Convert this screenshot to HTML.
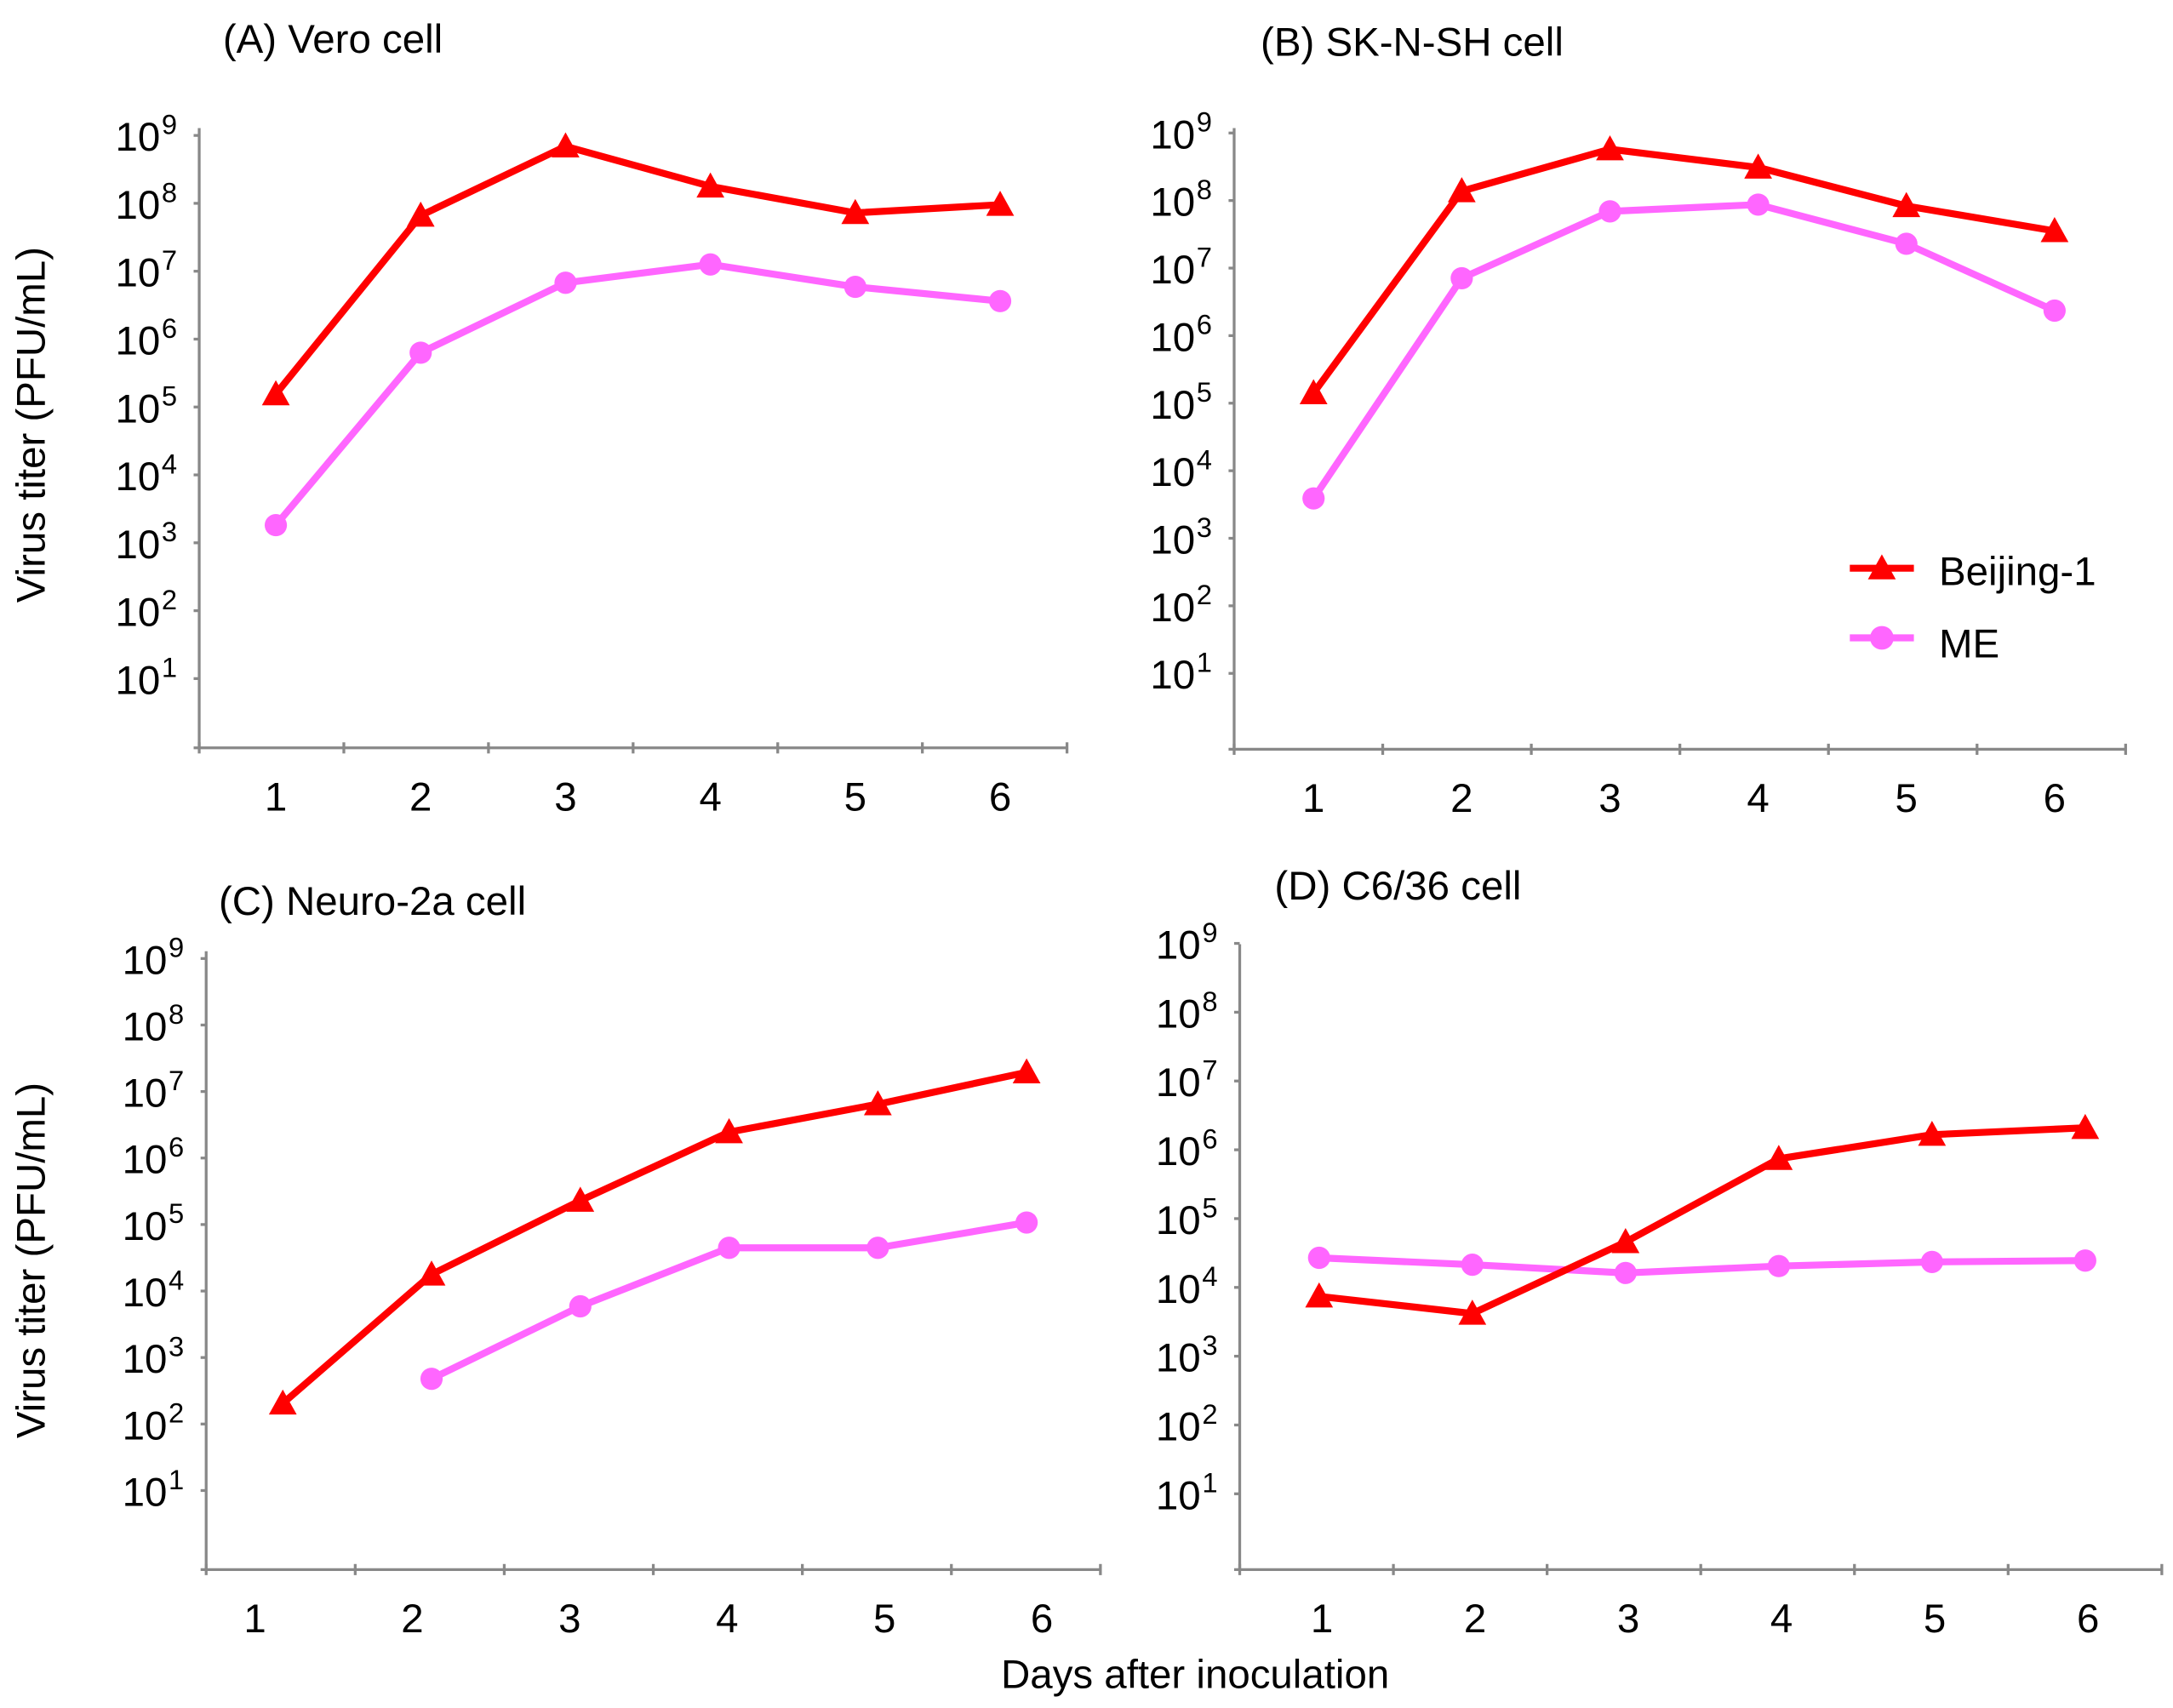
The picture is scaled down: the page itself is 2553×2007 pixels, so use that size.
<!DOCTYPE html>
<html><head><meta charset="utf-8"><style>
html,body{margin:0;padding:0;background:#fff;}
svg{display:block;font-family:"Liberation Sans","DejaVu Sans",sans-serif;}
</style></head><body>
<svg id="chart" width="2553" height="2007" viewBox="0 0 1560 1226.4" xmlns="http://www.w3.org/2000/svg">
<text x="32" y="305" font-size="29" text-anchor="middle" transform="rotate(-90 32 305)">Virus titer (PFU/mL)</text>
<text x="32" y="905" font-size="29" text-anchor="middle" transform="rotate(-90 32 905)">Virus titer (PFU/mL)</text>
<text x="858" y="1212" font-size="29" text-anchor="middle">Days after inoculation</text>
<g>
<line x1="1328" y1="408" x2="1374" y2="408" stroke="#f00" stroke-width="5"/>
<polygon points="1351,398 1361,416 1341,416" fill="#f00"/>
<text x="1392" y="420" font-size="29">Beijing-1</text>
<line x1="1328" y1="458" x2="1374" y2="458" stroke="#ff66ff" stroke-width="5"/>
<circle cx="1351" cy="458" r="8.5" fill="#ff66ff"/>
<text x="1392" y="472" font-size="29">ME</text>
</g>
</svg>
<script>
const days = [1,2,3,4,5,6];
const tickExps = [1,2,3,4,5,6,7,8,9];
const beijingA = [5.19,7.82,8.84,8.25,7.86,7.98];
const meA = [3.26,5.80,6.83,7.10,6.77,6.56];
const beijingB = [5.15,8.14,8.76,8.49,7.92,7.55];
const meB = [3.59,6.85,7.84,7.94,7.36,6.37];
const beijingC = [2.31,4.25,5.36,6.39,6.81,7.29];
const meC = [null,2.68,3.77,4.65,4.65,5.03];
const beijingD = [3.87,3.62,4.66,5.87,6.22,6.32];
const meD = [4.43,4.33,4.21,4.31,4.37,4.39];
const titles = ["(A) Vero cell","(B) SK-N-SH cell","(C) Neuro-2a cell","(D) C6/36 cell"];

const panels = [
 {id:"a",ax:143,top:92,bottom:537,right:766,y0:536,dec:48.75,lab0:198,labStep:104,pt0:198,ptStep:104,tx:160,ty:38,b:beijingA,m:meA,lx:140,ly:582},
 {id:"b",ax:886,top:92,bottom:538,right:1526,y0:532,dec:48.5,lab0:943,labStep:106.4,pt0:943,ptStep:106.4,tx:905,ty:40,b:beijingB,m:meB,lx:883,ly:583},
 {id:"c",ax:148,top:683,bottom:1127,right:790,y0:1118,dec:47.75,lab0:183,labStep:113,pt0:203,ptStep:106.8,tx:157,ty:657,b:beijingC,m:meC,lx:145,ly:1172},
 {id:"d",ax:890,top:678,bottom:1127,right:1552,y0:1122,dec:49.4,lab0:949,labStep:110,pt0:947,ptStep:110,tx:915,ty:646,b:beijingD,m:meD,lx:887,ly:1172}
];
const NS="http://www.w3.org/2000/svg";
const svg=document.getElementById("chart");
function mk(tag,attrs,parent){const e=document.createElementNS(NS,tag);for(const k in attrs)e.setAttribute(k,attrs[k]);(parent||svg).appendChild(e);return e;}
panels.forEach((p,pi)=>{
 const g=mk("g",{});
 
 
 const yS=v=>p.y0-v*p.dec;
 const xS=i=>p.pt0+i*p.ptStep;
 const xL=i=>p.lab0+i*p.labStep;
 const t=mk("text",{x:p.tx,y:p.ty,"font-size":29},g);t.textContent=titles[pi];
 
 
 const ya=mk("line",{x1:p.ax,y1:p.top,x2:p.ax,y2:p.bottom,stroke:"#888","stroke-width":2},g);
 
 
 const xa=mk("line",{x1:p.ax-4,y1:p.bottom,x2:p.right,y2:p.bottom,stroke:"#888","stroke-width":2},g);
 
 
 const n=days.length, w=(p.right-p.ax)/n;
 for(let i=0;i<=n;i++){const tk=mk("line",{x1:p.ax+i*w,y1:p.bottom-4,x2:p.ax+i*w,y2:p.bottom+4,stroke:"#888","stroke-width":2},g);
  
  }
 tickExps.forEach(e=>{
  const y=yS(e);
  const tk=mk("line",{x1:p.ax-4,y1:y,x2:p.ax,y2:y,stroke:"#888","stroke-width":2},g);
  
  
  const tx=mk("text",{x:p.ax-28,y:y+11,"font-size":29,"text-anchor":"end"},g);
  tx.textContent="10";
  
  
  const sp=mk("text",{x:p.ax-27,y:y-1,"font-size":20},g);
  sp.textContent=String(e);
  
  
 });
 days.forEach((d,i)=>{const tx=mk("text",{x:xL(i),y:p.ly,"font-size":29,"text-anchor":"middle"},g);tx.textContent=String(d);
  
  });
 [[p.m,"#ff66ff","me",false],[p.b,"#ff0000","beijing",true]].forEach(([arr,col,nm,tri])=>{
  const pts=[];arr.forEach((v,i)=>{if(v!==null)pts.push([xS(i),yS(v)]);});
  const pl=mk("polyline",{points:pts.map(q=>q.join(",")).join(" "),fill:"none",stroke:col,"stroke-width":5,"stroke-linejoin":"round"},g);
  
  
  pts.forEach(([x,y])=>{
   let m;
   if(tri)m=mk("polygon",{points:`${x},${y-10} ${x+10},${y+8} ${x-10},${y+8}`,fill:col},g);
   else m=mk("circle",{cx:x,cy:y,r:8,fill:col},g);
   
   
  });
 });
});
</script>
</body></html>
